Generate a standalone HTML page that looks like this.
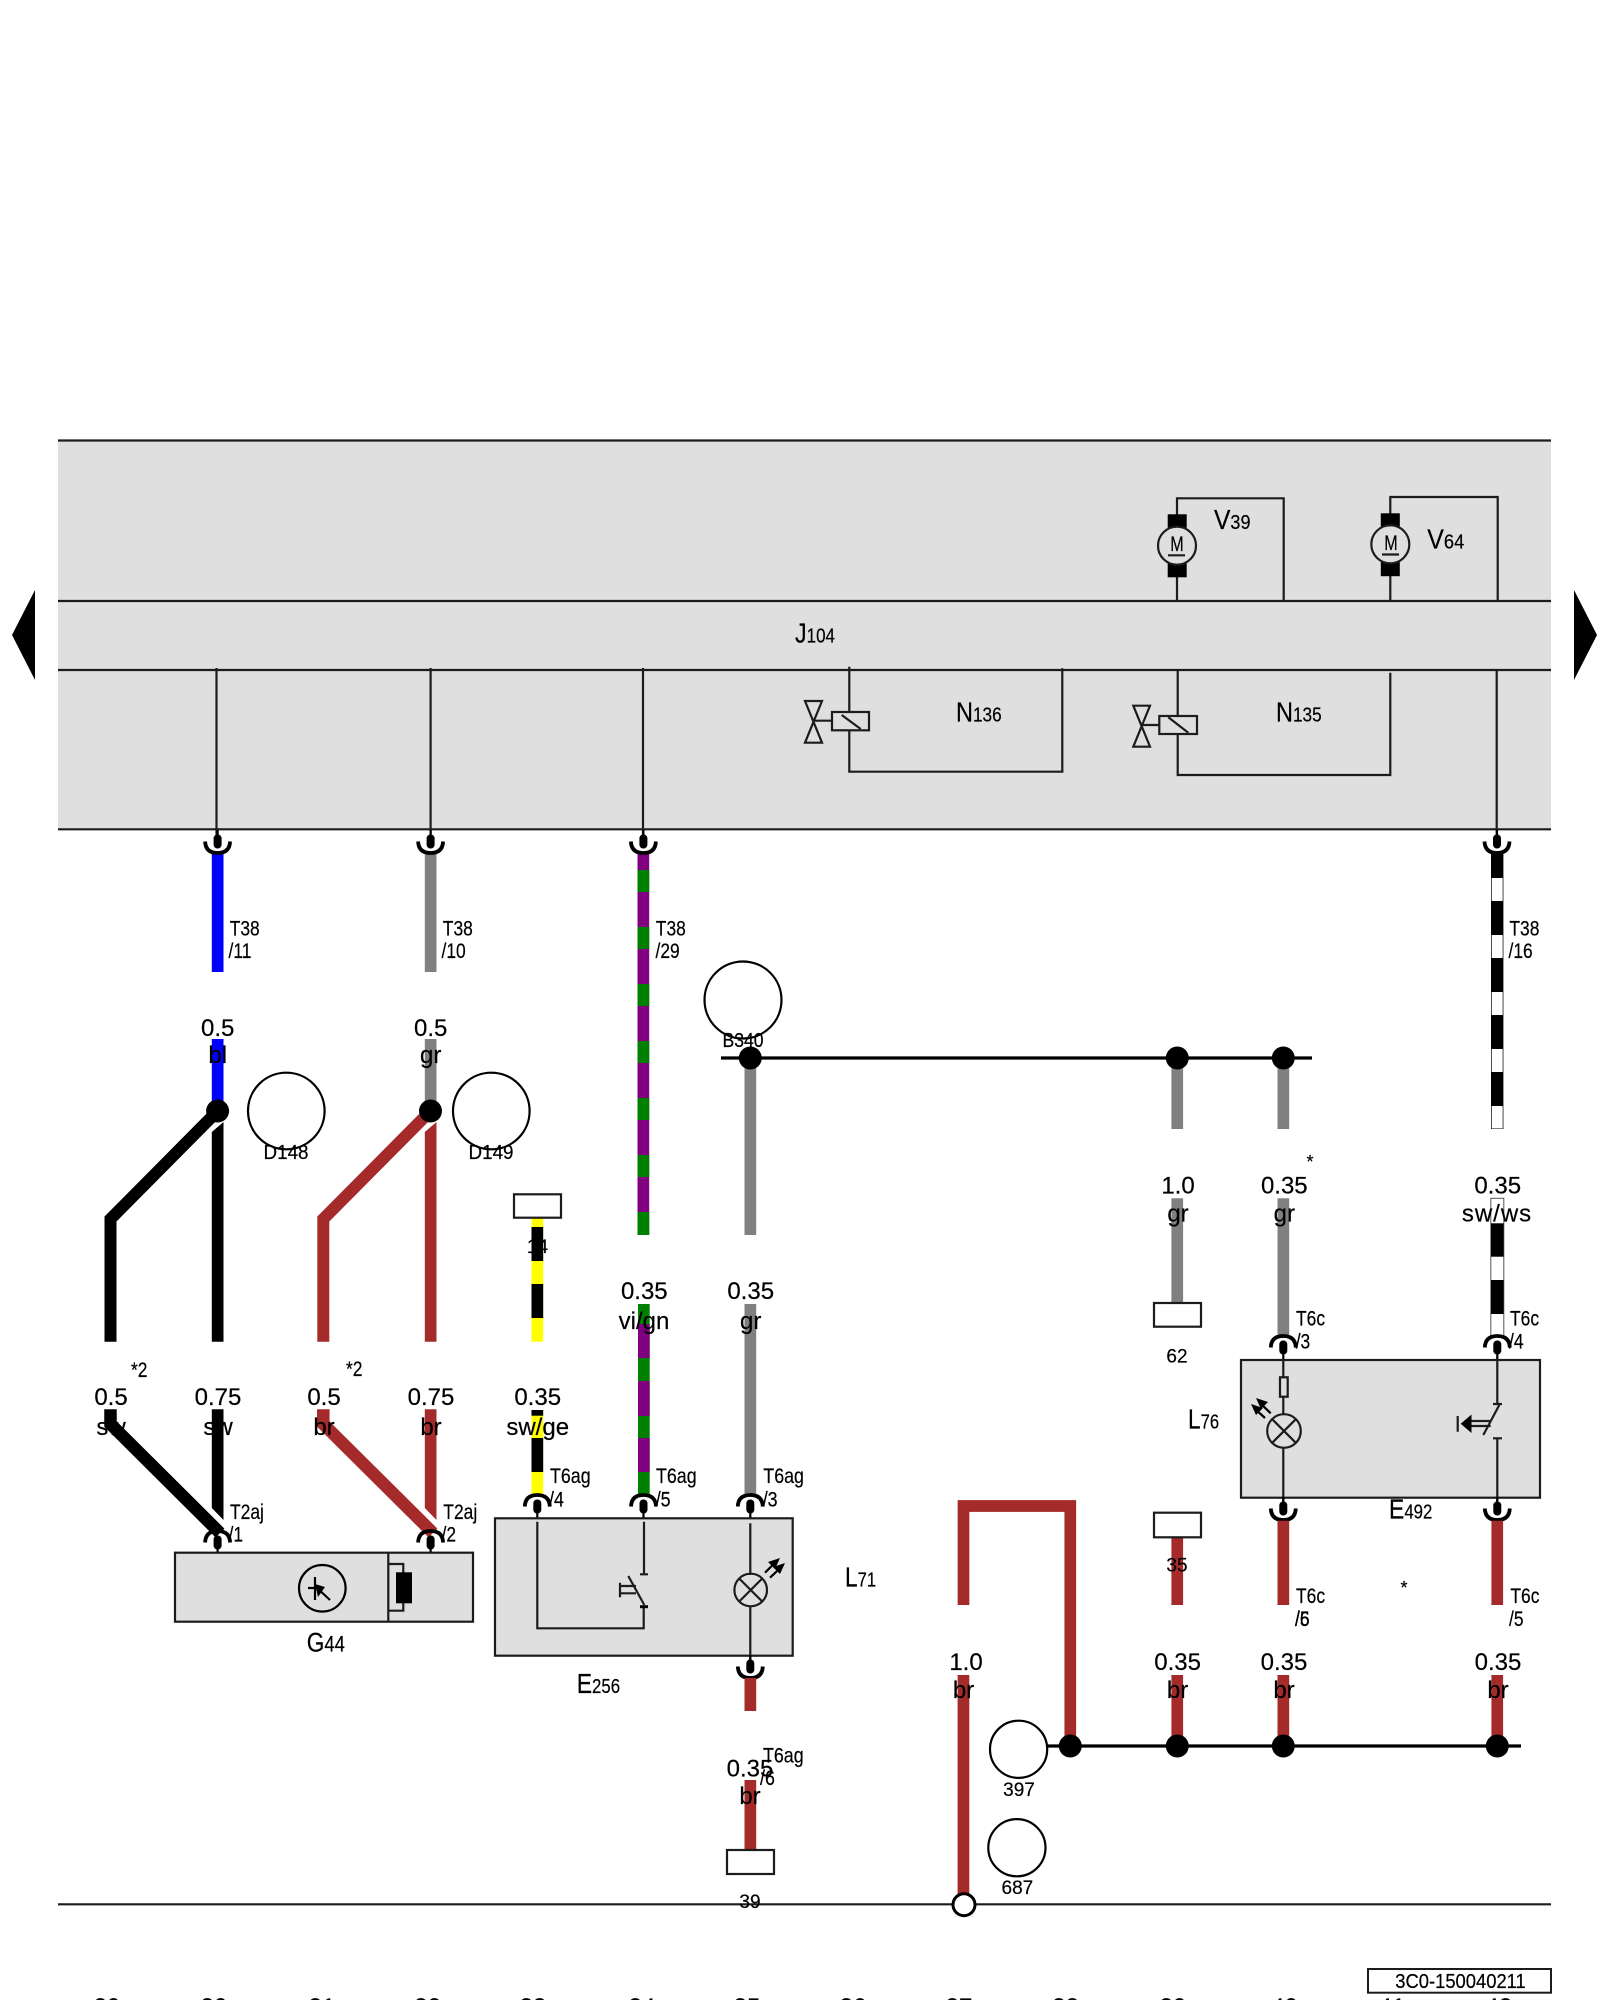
<!DOCTYPE html>
<html><head><meta charset="utf-8"><title>Wiring diagram</title>
<style>
html,body{margin:0;padding:0;background:#fff}
svg{display:block}
text{font-family:"Liberation Sans",sans-serif;fill:#000;stroke:#000;stroke-width:.2px}
.w{font-size:24px;text-anchor:middle}
.t{font-size:21px}
.m{font-size:19px;text-anchor:middle}
.b{font-size:28px}
.s{font-size:20.5px}
.l{stroke:#1c1c1c;stroke-width:2.2;fill:none}
.f{stroke:#1c1c1c;stroke-width:2.2;fill:#dfdfdf}
.o{stroke:#1c1c1c;stroke-width:2.2;fill:#fff}
.c{stroke:#000;stroke-width:2.2;fill:none}
</style></head><body>
<svg width="1600" height="2000" viewBox="0 0 1600 2000" xmlns="http://www.w3.org/2000/svg">
<defs>
<g id="cu"><path d="M-12.5 11.5Q-12 0 0 0Q12 0 12.5 11.5" fill="none" stroke="#000" stroke-width="3.8"/><rect x="-4" y="4.5" width="8" height="14" rx="3.8" fill="#000"/><rect x="-1.1" y="15" width="2.2" height="8" fill="#000"/></g>
</defs>
<rect width="1600" height="2000" fill="#fff"/>
<rect x="58" y="440" width="1493" height="389" fill="#dfdfdf"/>
<path d="M58 440.5H1551M58 601H1551M58 670H1551M58 829.3H1551" class="l"/>
<polygon points="35,590 12,635 35,680" fill="#000"/>
<polygon points="1574,590 1597,635 1574,680" fill="#000"/>
<path d="M216.5 668V835M430.6 668V835M643 668V835M1496.7 670V835" class="l"/>

<!-- motors -->
<path d="M1177 601V498.3H1283.7V601M1390.3 601V497H1497.7V600" class="l"/>
<rect x="1167.7" y="514.3" width="19" height="16" fill="#000"/><rect x="1167.7" y="562.7" width="19" height="14.6" fill="#000"/>
<circle cx="1177" cy="545.7" r="19" class="f"/>
<text text-anchor="middle" transform="translate(1177,551) scale(.85,1.1)" font-size="19">M</text><path d="M1168 555.3H1185" class="l"/>
<rect x="1380.8" y="513.3" width="19" height="15" fill="#000"/><rect x="1380.8" y="561.7" width="19" height="14.5" fill="#000"/>
<circle cx="1390.3" cy="544.3" r="19" class="f"/>
<text text-anchor="middle" transform="translate(1391,550) scale(.85,1.1)" font-size="19">M</text><path d="M1382 554.5H1399" class="l"/>
<text transform="translate(1214,529) scale(.88,1)"><tspan class="b">V</tspan><tspan class="s">39</tspan></text>
<text transform="translate(1427.3,548.3) scale(.89,1)"><tspan class="b">V</tspan><tspan class="s">64</tspan></text>
<text transform="translate(795,642.7) scale(.83,1)"><tspan class="b">J</tspan><tspan class="s">104</tspan></text>

<!-- valves -->
<path d="M849.3 666.7V771.7H1062.3V668.3M1177.7 670V775H1390.3V672.7" class="l"/>
<rect x="832" y="712" width="37" height="18.3" class="f"/><path d="M841.7 715L860.7 729M813.3 720.7H832" class="l"/>
<path d="M805 701H822L805 742.7H822Z" class="l"/>
<rect x="1159.3" y="716" width="37.7" height="18" class="f"/><path d="M1168.3 717.3L1188.3 732.7M1141.7 725H1159.3" class="l"/>
<path d="M1133.3 705.7H1150L1133.3 746.7H1150Z" class="l"/>
<text transform="translate(956,721.7) scale(.84,1)"><tspan class="b">N</tspan><tspan class="s">136</tspan></text>
<text transform="translate(1276,721.7) scale(.84,1)"><tspan class="b">N</tspan><tspan class="s">135</tspan></text>

<!-- T38 wires -->
<rect x="211.8" y="853" width="11.7" height="119" fill="#00f"/>
<rect x="424.8" y="853" width="11.7" height="119" fill="#808080"/>
<rect x="637.5" y="853" width="11.7" height="382" fill="#800080"/>
<path d="M643.4 870v22M643.4 927v22M643.4 984v22M643.4 1041v22M643.4 1098v22M643.4 1155v22M643.4 1212v23" stroke="#008000" stroke-width="11.7"/>
<rect x="1491" y="853" width="12.4" height="276" fill="#000"/>
<path d="M1497.2 878v23M1497.2 935v23M1497.2 992v23M1497.2 1049v23M1497.2 1106v22.5" stroke="#fff" stroke-width="11"/>
<g fill="#000"><use href="#cu" transform="translate(217.6,853) scale(1,-1)"/><use href="#cu" transform="translate(430.6,853) scale(1,-1)"/><use href="#cu" transform="translate(643.4,853) scale(1,-1)"/><use href="#cu" transform="translate(1497,853) scale(1,-1)"/></g>
<text class="t" transform="translate(229.7,935.5) scale(.83,1)">T38</text><text class="t" transform="translate(228.5,958) scale(.83,1)">/11</text>
<text class="t" transform="translate(442.8,935.5) scale(.83,1)">T38</text><text class="t" transform="translate(441.5,958) scale(.83,1)">/10</text>
<text class="t" transform="translate(655.8,935.5) scale(.83,1)">T38</text><text class="t" transform="translate(655.5,958) scale(.83,1)">/29</text>
<text class="t" transform="translate(1509.4,935.5) scale(.83,1)">T38</text><text class="t" transform="translate(1508.5,958) scale(.83,1)">/16</text>

<!-- upper split -->
<rect x="211.8" y="1039" width="11.7" height="72" fill="#00f"/>
<rect x="424.8" y="1039" width="11.7" height="72" fill="#808080"/>
<path d="M110.5 1341.7V1219L217.6 1111" fill="none" stroke="#000" stroke-width="12"/>
<polygon points="211.8,1132 223.5,1122 223.5,1341.7 211.8,1341.7" fill="#000"/>
<path d="M323.3 1341.7V1219L430.5 1111" fill="none" stroke="#a52a2a" stroke-width="12"/>
<polygon points="424.8,1132 436.5,1122 436.5,1341.7 424.8,1341.7" fill="#a52a2a"/>
<circle cx="217.6" cy="1111" r="11.5" fill="#000"/><circle cx="430.5" cy="1111" r="11.5" fill="#000"/>
<circle cx="286.3" cy="1111" r="38.3" class="c"/><circle cx="491.3" cy="1111" r="38.3" class="c"/>
<text class="w" x="217.7" y="1036">0.5</text><text class="w" x="217.7" y="1063">bl</text>
<text class="w" x="430.7" y="1036">0.5</text><text class="w" x="430.7" y="1063">gr</text>
<text text-anchor="middle" transform="translate(286,1159) scale(.94,1)" font-size="20">D148</text>
<text text-anchor="middle" transform="translate(491,1159) scale(.94,1)" font-size="20">D149</text>

<!-- 14 -->
<rect x="531.5" y="1217" width="11.7" height="124.7" fill="#ff0"/>
<rect x="531.5" y="1227" width="11.7" height="34" fill="#000"/><rect x="531.5" y="1284" width="11.7" height="34" fill="#000"/>
<rect x="514" y="1194.3" width="47" height="23.4" class="o"/>
<text class="m" x="537.5" y="1253">14</text>

<!-- B340 -->
<circle cx="743" cy="1000" r="38.5" class="c"/>
<text text-anchor="middle" transform="translate(743,1047) scale(.88,1)" font-size="20">B340</text>
<path d="M721 1058H1312" stroke="#000" stroke-width="3.2"/>
<rect x="744.5" y="1058" width="11.7" height="177" fill="#808080"/>
<rect x="1171.4" y="1058" width="11.7" height="71" fill="#808080"/>
<rect x="1277.5" y="1058" width="11.7" height="71" fill="#808080"/>
<circle cx="750.3" cy="1058" r="11.5" fill="#000"/><circle cx="1177.3" cy="1058" r="11.5" fill="#000"/><circle cx="1283.3" cy="1058" r="11.5" fill="#000"/>

<!-- G44 wires -->
<path d="M110.5 1409.3V1424L220 1533" fill="none" stroke="#000" stroke-width="12.5"/>
<polygon points="211.8,1409.3 223.5,1409.3 223.5,1520 211.8,1508" fill="#000"/>
<path d="M323.3 1409.3V1424L433 1533" fill="none" stroke="#a52a2a" stroke-width="12.5"/>
<polygon points="424.8,1409.3 436.5,1409.3 436.5,1520 424.8,1508" fill="#a52a2a"/>
<use href="#cu" x="217.6" y="1531"/><use href="#cu" x="430.6" y="1531"/>
<rect x="175" y="1552.7" width="298" height="69" class="f"/>
<path d="M388.3 1552.7V1621.7M388.3 1564H403.3V1610.7H388.3" class="l"/>
<rect x="396" y="1572.3" width="16" height="31" fill="#000"/>
<circle cx="322.3" cy="1588.3" r="23.3" class="c"/>
<path d="M315 1577V1600M308 1588H322M316 1587L330 1600" class="c"/>
<polygon points="315,1584 325,1587 318,1597" fill="#000"/>
<text class="w" x="111" y="1405">0.5</text><text class="w" x="111" y="1435">sw</text>
<text class="w" x="218" y="1405">0.75</text><text class="w" x="218" y="1435">sw</text>
<text class="w" x="324" y="1405">0.5</text><text class="w" x="324" y="1435">br</text>
<text class="w" x="431" y="1405">0.75</text><text class="w" x="431" y="1435">br</text>
<text class="t" transform="translate(131,1377) scale(.83,1)">*2</text>
<text class="t" transform="translate(346,1376) scale(.83,1)">*2</text>
<text class="t" transform="translate(230,1519) scale(.83,1)">T2aj</text><text class="t" transform="translate(228.5,1541.7) scale(.83,1)">/1</text>
<text class="t" transform="translate(443.3,1519) scale(.83,1)">T2aj</text><text class="t" transform="translate(441.5,1541.7) scale(.83,1)">/2</text>
<text transform="translate(306.7,1651.7) scale(.84,1)"><tspan font-size="27">G</tspan><tspan font-size="22">44</tspan></text>

<!-- E256 wires -->
<rect x="531.5" y="1410" width="11.7" height="85" fill="#ff0"/>
<rect x="531.5" y="1410" width="11.7" height="5.7" fill="#000"/><rect x="531.5" y="1438" width="11.7" height="34" fill="#000"/>
<rect x="638" y="1304" width="11.7" height="191" fill="#008000"/>
<rect x="638" y="1324" width="11.7" height="34" fill="#800080"/><rect x="638" y="1381" width="11.7" height="35" fill="#800080"/><rect x="638" y="1438" width="11.7" height="34" fill="#800080"/>
<rect x="744.5" y="1304" width="11.7" height="191" fill="#808080"/>
<use href="#cu" x="537.3" y="1495"/><use href="#cu" x="643.5" y="1495"/><use href="#cu" x="750.3" y="1495"/>
<rect x="495" y="1518.3" width="297.7" height="137.4" class="f"/>
<path d="M537.3 1521.7V1628.3H643.7V1606.7M644 1521.7V1574.3M640 1574.3H648M628.3 1576L644.3 1605M620 1582.7V1597.3M620 1586H636M620 1593.3H636" class="l"/>
<path d="M640 1606.7H648" stroke="#000" stroke-width="3"/>
<path d="M750.3 1523.3V1575M750.3 1606V1670" class="l"/>
<circle cx="750.7" cy="1590" r="16.3" class="l"/>
<path d="M739.2 1578.5L762.2 1601.5M762.2 1578.5L739.2 1601.5" class="l"/>
<path d="M765 1572.7L776.7 1561M770 1577.7L782.7 1565.7" class="c"/>
<polygon points="780,1558 768,1562 775,1569" fill="#000"/><polygon points="785,1563 773,1567 780,1574" fill="#000"/>
<use href="#cu" transform="translate(750.3,1678) scale(1,-1)"/>
<rect x="744.5" y="1678" width="11.7" height="33" fill="#a52a2a"/>
<text class="w" x="537.7" y="1405">0.35</text><text class="w" x="537.7" y="1435">sw/ge</text>
<text class="w" x="644.3" y="1299">0.35</text><text class="w" x="644" y="1329">vi/gn</text>
<text class="w" x="750.7" y="1299">0.35</text><text class="w" x="750.7" y="1329">gr</text>
<text class="t" transform="translate(550,1483) scale(.85,1)">T6ag</text><text class="t" transform="translate(549,1506.7) scale(.85,1)">/4</text>
<text class="t" transform="translate(656,1483) scale(.85,1)">T6ag</text><text class="t" transform="translate(655.7,1506.7) scale(.85,1)">/5</text>
<text class="t" transform="translate(763.3,1483) scale(.85,1)">T6ag</text><text class="t" transform="translate(762.7,1506.7) scale(.85,1)">/3</text>
<text transform="translate(576.7,1693) scale(.82,1)"><tspan class="b">E</tspan><tspan class="s">256</tspan></text>
<text transform="translate(845,1586.7) scale(.81,1)"><tspan class="b">L</tspan><tspan class="s">71</tspan></text>

<!-- 39 -->
<rect x="744.5" y="1780" width="11.7" height="70" fill="#a52a2a"/>
<rect x="727" y="1850" width="47" height="24" class="o"/>
<path d="M58 1904.3H1551" class="l"/>
<text class="w" x="750" y="1776.7">0.35</text><text class="w" x="750" y="1804">br</text>
<text class="t" transform="translate(763,1762.7) scale(.85,1)">T6ag</text><text class="t" transform="translate(760,1785) scale(.85,1)">/6</text>
<text class="m" x="750" y="1908">39</text>

<!-- right side upper -->
<rect x="1171.4" y="1198.3" width="11.7" height="105" fill="#808080"/>
<rect x="1154" y="1303" width="47" height="23.7" class="o"/>
<rect x="1277.5" y="1198.3" width="11.7" height="138" fill="#808080"/>
<rect x="1490.8" y="1198.3" width="13" height="138" fill="#fff" stroke="#555" stroke-width="1"/>
<rect x="1491" y="1223.3" width="12.6" height="33.4" fill="#000"/><rect x="1491" y="1280" width="12.6" height="34" fill="#000"/>
<use href="#cu" x="1283.3" y="1336"/><use href="#cu" x="1497.3" y="1336"/>
<rect x="1241" y="1360" width="299" height="137.7" class="f"/>
<text class="w" x="1178" y="1193.3">1.0</text><text class="w" x="1178" y="1221.7">gr</text>
<text class="w" x="1284.3" y="1193.3">0.35</text><text class="w" x="1284.3" y="1221.7">gr</text>
<text class="w" x="1497.7" y="1193.3">0.35</text><text class="w" x="1497" y="1221.7" letter-spacing="1">sw/ws</text>
<text class="m" x="1177" y="1362.3">62</text>
<text x="1310" y="1168" text-anchor="middle" font-size="18">*</text>
<text x="1404" y="1594" text-anchor="middle" font-size="18">*</text>
<text class="t" transform="translate(1296,1325.7) scale(.83,1)">T6c</text><text class="t" transform="translate(1295.7,1348.3) scale(.83,1)">/3</text>
<text class="t" transform="translate(1510,1325.7) scale(.83,1)">T6c</text><text class="t" transform="translate(1509,1348.3) scale(.83,1)">/4</text>
<text transform="translate(1188,1428.3) scale(.81,1)"><tspan class="b">L</tspan><tspan class="s">76</tspan></text>
<text transform="translate(1389,1518.3) scale(.82,1)"><tspan class="b">E</tspan><tspan class="s">492</tspan></text>
<path d="M1283.3 1360V1377.3M1283.3 1396.7V1414M1283.3 1448V1512M1497.3 1360V1404M1493 1404H1502M1499.3 1405L1483.3 1435M1493 1438.3H1502M1497.3 1438.3V1512M1470 1421H1490.7M1470 1426H1490.7M1457.7 1416V1431.7" class="l"/>
<rect x="1280" y="1377.3" width="7.7" height="19.4" class="f"/>
<circle cx="1284" cy="1431" r="16.8" class="l"/>
<path d="M1272.2 1419.2L1295.8 1442.8M1295.8 1419.2L1272.2 1442.8" class="l"/>
<path d="M1265 1418L1254 1408M1270.7 1413.3L1259 1402" class="c"/>
<polygon points="1251,1404 1263,1408 1256,1415" fill="#000"/><polygon points="1256,1398 1268,1402 1261,1409" fill="#000"/>
<polygon points="1460.7,1423.7 1471.5,1414.5 1471.5,1433" fill="#000"/>
<use href="#cu" transform="translate(1283.3,1520) scale(1,-1)"/><use href="#cu" transform="translate(1497.3,1520) scale(1,-1)"/>

<!-- lower brown -->
<rect x="1277.5" y="1520.7" width="11.7" height="84.3" fill="#a52a2a"/>
<rect x="1491.4" y="1520.7" width="11.7" height="84.3" fill="#a52a2a"/>
<rect x="1171.4" y="1537" width="11.7" height="68" fill="#a52a2a"/>
<rect x="1154" y="1512.7" width="47" height="24.6" class="o"/>
<text class="m" x="1177" y="1571.7">35</text>
<text class="t" transform="translate(1296,1603) scale(.83,1)">T6c</text><text class="t" transform="translate(1295,1626) scale(.83,1)">/6</text><text class="t" transform="translate(1295,1626) scale(.83,1)">/5</text>
<text class="t" transform="translate(1510.4,1603) scale(.83,1)">T6c</text><text class="t" transform="translate(1509,1626) scale(.83,1)">/5</text>

<path d="M963.5 1605V1506H1070.3V1746" fill="none" stroke="#a52a2a" stroke-width="11.7"/>
<rect x="957.6" y="1675" width="11.7" height="229" fill="#a52a2a"/>
<circle cx="964" cy="1904.7" r="11" fill="#fff" stroke="#000" stroke-width="3"/>
<path d="M1047 1746H1521" stroke="#000" stroke-width="3.2"/>
<rect x="1171.4" y="1675" width="11.7" height="71" fill="#a52a2a"/>
<rect x="1277.5" y="1675" width="11.7" height="71" fill="#a52a2a"/>
<rect x="1491.4" y="1675" width="11.7" height="71" fill="#a52a2a"/>
<circle cx="1070.3" cy="1746" r="11.5" fill="#000"/><circle cx="1177.3" cy="1746" r="11.5" fill="#000"/><circle cx="1283.3" cy="1746" r="11.5" fill="#000"/><circle cx="1497.3" cy="1746" r="11.5" fill="#000"/>
<circle cx="1018.6" cy="1749.3" r="28.6" class="c"/><circle cx="1016.9" cy="1847.7" r="28.6" class="c"/>
<text class="m" x="1019" y="1796">397</text><text class="m" x="1017.4" y="1894">687</text>
<text class="w" x="966" y="1670">1.0</text><text class="w" x="963.5" y="1698">br</text>
<text class="w" x="1177.6" y="1670">0.35</text><text class="w" x="1177.6" y="1698">br</text>
<text class="w" x="1284" y="1670">0.35</text><text class="w" x="1284" y="1698">br</text>
<text class="w" x="1498" y="1670">0.35</text><text class="w" x="1498" y="1698">br</text>

<!-- footer -->
<rect x="1368" y="1969" width="183" height="23.7" fill="#fff" stroke="#1c1c1c" stroke-width="2"/>
<text text-anchor="middle" transform="translate(1460.5,1988) scale(.92,1)" font-size="20">3C0-150040211</text>
<g>
<text class="w" x="107" y="2015">29</text><text class="w" x="214" y="2015">30</text><text class="w" x="322" y="2015">31</text><text class="w" x="427.6" y="2015">32</text><text class="w" x="533" y="2015">33</text><text class="w" x="642" y="2015">34</text><text class="w" x="747" y="2015">35</text><text class="w" x="853" y="2015">36</text><text class="w" x="959" y="2015">37</text><text class="w" x="1065.6" y="2015">38</text><text class="w" x="1173" y="2015">39</text><text class="w" x="1284.5" y="2015">40</text><text class="w" x="1392" y="2015">41</text><text class="w" x="1498.7" y="2015">42</text>
</g>
</svg>
</body></html>
